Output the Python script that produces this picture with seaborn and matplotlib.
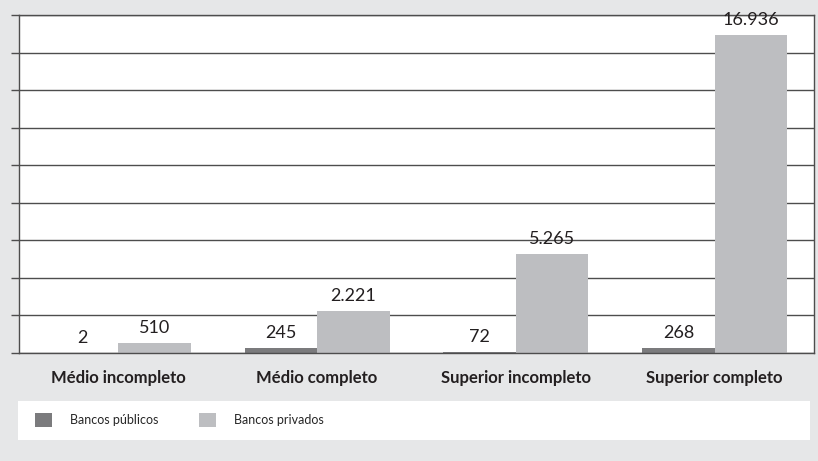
import pandas as pd
import seaborn as sns
import matplotlib.pyplot as plt
from matplotlib.patches import Rectangle

# data
categories = ['Médio incompleto', 'Médio completo', 'Superior incompleto', 'Superior completo']
publicos = [2, 245, 72, 268]
privados = [510, 2221, 5265, 16936]
series_names = ['Bancos públicos', 'Bancos privados']

df = pd.DataFrame({
    'categoria': categories * 2,
    'valor': publicos + privados,
    'serie': [series_names[0]] * 4 + [series_names[1]] * 4,
})

sns.set_theme(style='white')
plt.rcParams['font.family'] = ['Lato', 'DejaVu Sans']

bg = '#e6e7e8'
edge = '#4d4d4d'
colors = ['#7b7b7d', '#bdbec1']

fig = plt.figure(figsize=(8.18, 4.61), dpi=100, facecolor=bg)
ax = fig.add_axes([0.0232, 0.2343, 0.9719, 0.7332])
ax.set_facecolor('white')

sns.barplot(data=df, x='categoria', y='valor', hue='serie', palette=colors,
            width=0.73, gap=0, saturation=1, linewidth=0, ax=ax, legend=False)

ax.set_ylim(0, 18000)
ax.set_yticks(range(0, 18001, 2000))
ax.set_yticklabels([])
ax.yaxis.grid(True, color=edge, linewidth=1)
ax.set_axisbelow(True)
ax.tick_params(axis='y', left=True, length=6, width=1, color=edge, direction='out')
ax.tick_params(axis='x', bottom=False, pad=6)
ax.set_xlabel('')
ax.set_ylabel('')
for lab in ax.get_xticklabels():
    lab.set_fontsize(12)
    lab.set_fontweight('bold')
    lab.set_color('#231f20')
for side in ['left', 'right', 'top', 'bottom']:
    ax.spines[side].set_color(edge)
    ax.spines[side].set_linewidth(1)

for cont in ax.containers:
    vals = [int(b.get_height()) for b in cont]
    ax.bar_label(cont, labels=[f'{v:,}'.replace(',', '.') for v in vals],
                 padding=5, fontsize=13, color='#231f20')

# legend strip below the chart
fig.patches.append(Rectangle((18 / 818, 21 / 461), 792 / 818, 39 / 461,
                             transform=fig.transFigure, facecolor='white',
                             edgecolor='none', zorder=0))
handles = [Rectangle((0, 0), 1, 1, facecolor=c, edgecolor='none') for c in colors]
fig.legend(handles, series_names, loc='center left', bbox_to_anchor=(35 / 818, 41 / 461),
           ncol=2, frameon=False, fontsize=9, handlelength=1.35, handleheight=1.35,
           handletextpad=1.45, columnspacing=3.25, borderaxespad=0, borderpad=0)

fig.savefig('out.png', dpi=100, facecolor=bg)
